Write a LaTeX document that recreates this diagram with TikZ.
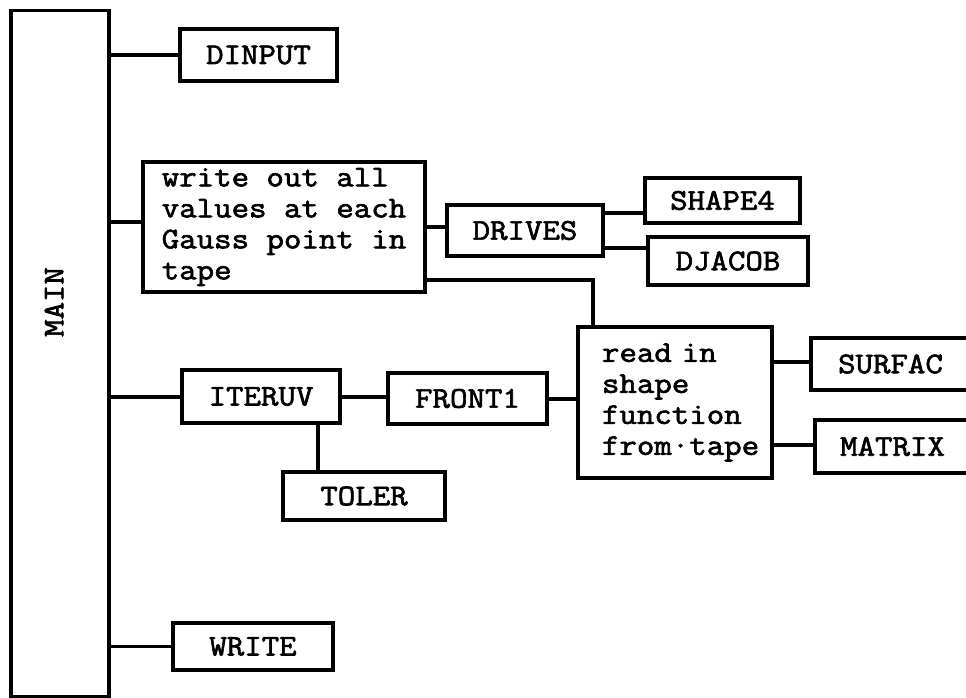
\documentclass[tikz,border=0pt]{standalone}
\usepackage{fontspec}
\setmonofont{Latin Modern Mono}[AutoFakeBold=2.2, FakeStretch=1.13]
\usetikzlibrary{calc}
\begin{document}
\begin{tikzpicture}[x=1pt,y=-1pt,
  txt/.style={font=\ttfamily\bfseries\fontsize{30}{31}\selectfont},
  box/.style={draw, line width=3.3pt, inner sep=0pt, align=left, txt},
  link/.style={line width=3.3pt}]
\useasboundingbox (0,0) rectangle (966,698);

% calling tree
\node[box, minimum width=98pt, minimum height=686pt] (main) at (60,353.5) {};
\node[txt, rotate=90, inner sep=0pt] (mainlabel) at (54,302) {MAIN};

\node[box, minimum width=157pt, minimum height=52pt] (dinput) at (258.5,55) {DINPUT};
\node[box, minimum width=282pt, minimum height=130pt] (writeout) at (284,227)
  {write out all\\values at each\\Gauss point in\\tape};
\node[box, minimum width=156pt, minimum height=51pt] (drives) at (525,230.5) {DRIVES};
\node[box, minimum width=155pt, minimum height=45pt] (shape) at (722.5,200.5) {SHAPE4};
\node[box, minimum width=160pt, minimum height=48pt] (djacob) at (728,261) {DJACOB};
\node[box, minimum width=194pt, minimum height=151pt, text width=146pt] (readin) at (675,402.5)
  {read in\\shape\\function\\from·tape};
\node[box, minimum width=159pt, minimum height=52pt] (surfac) at (890.5,364) {SURFAC};
\node[box, minimum width=155pt, minimum height=53pt] (matrix) at (892.5,446.5) {MATRIX};
\node[box, minimum width=158pt, minimum height=53pt] (iteruv) at (261,396.5) {ITERUV};
\node[box, minimum width=159pt, minimum height=51pt] (front) at (467.5,398.5) {FRONT1};
\node[box, minimum width=162pt, minimum height=48pt] (toler) at (364,496) {TOLER};
\node[box, minimum width=160pt, minimum height=47pt] (write) at (253,646.5) {WRITE};

% connector levels
\coordinate (ywo) at (0,222);
\coordinate (ywd) at (0,227);
\coordinate (ysh) at (0,213);
\coordinate (ydj) at (0,248);
\coordinate (ytp) at (0,280);
\coordinate (yit) at (0,397);
\coordinate (yfr) at (0,399);
\coordinate (ysu) at (0,362);
\coordinate (yma) at (0,445);
\coordinate (xto) at (318,0);
\coordinate (bend) at (593,280);

\draw[link] (main.east |- dinput.west) -- (dinput.west);
\draw[link] (main.east |- ywo) -- (writeout.west |- ywo);
\draw[link] (writeout.east |- ywd) -- (drives.west |- ywd);
\draw[link] (drives.east |- ysh) -- (shape.west |- ysh);
\draw[link] (drives.east |- ydj) -- (djacob.west |- ydj);
\draw[link] (writeout.east |- ytp) -- (bend) -- (bend |- readin.north);
\draw[link] (main.east |- yit) -- (iteruv.west |- yit);
\draw[link] (iteruv.east |- yit) -- (front.west |- yit);
\draw[link] (front.east |- yfr) -- (readin.west |- yfr);
\draw[link] (xto |- iteruv.south) -- (xto |- toler.north);
\draw[link] (readin.east |- ysu) -- (surfac.west |- ysu);
\draw[link] (readin.east |- yma) -- (matrix.west |- yma);
\draw[link] (main.east |- write.west) -- (write.west);
\end{tikzpicture}
\end{document}
